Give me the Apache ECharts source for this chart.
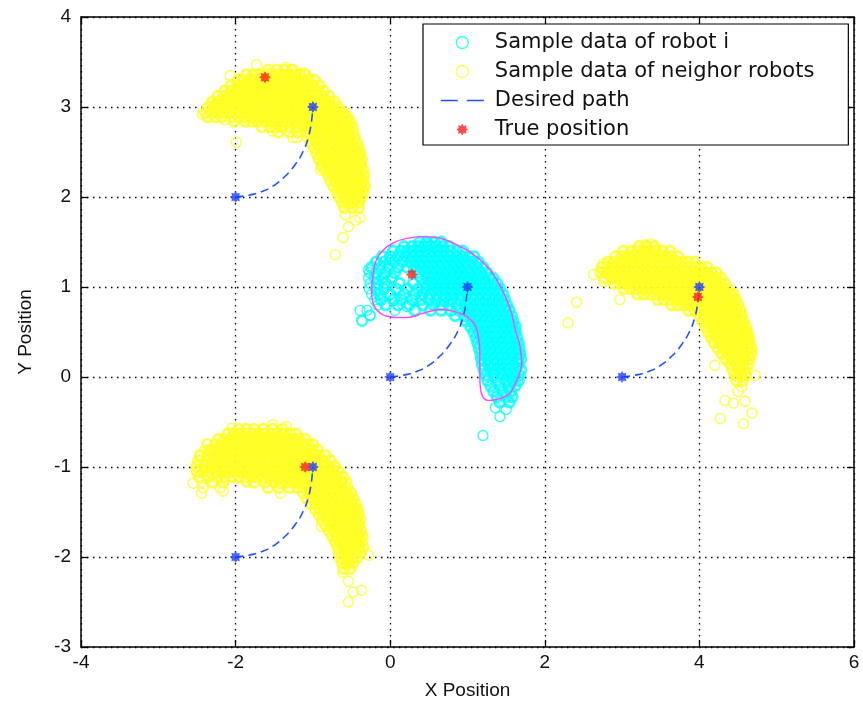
<!DOCTYPE html>
<html>
<head>
<meta charset="utf-8">
<script src="https://cdn.jsdelivr.net/npm/echarts@6/dist/echarts.min.js"></script>
<style>
html,body{margin:0;padding:0;background:#fff;}
#chart{width:863px;height:704px;}
</style>
</head>
<body>
<div id="chart"></div>
<script>
// Axis ranges and tick labels
const xTicks = [-4, -2, 0, 2, 4, 6];
const yTicks = [-3, -2, -1, 0, 1, 2, 3, 4];

// Legend entries
const legendNames = ['Sample data of robot i', 'Sample data of neighor robots', 'Desired path', 'True position'];

// Sample clouds, stored as rows: [y, x1, x2, ...]
const neighborTopLeftRows = [
  [3.41,-1.58,-1.47,-1.36,-1.27],
  [3.36,-1.86,-1.77,-1.70,-1.62,-1.55,-1.47,-1.40,-1.32,-1.24,-1.17,-1.10],
  [3.30,-1.97,-1.90,-1.82,-1.75,-1.67,-1.60,-1.52,-1.44,-1.37,-1.29,-1.22,-1.14,-1.06,-0.98],
  [3.24,-2.06,-1.98,-1.91,-1.83,-1.76,-1.68,-1.61,-1.53,-1.46,-1.38,-1.31,-1.23,-1.16,-1.08,-1.00,-0.92],
  [3.18,-2.14,-2.06,-1.99,-1.92,-1.84,-1.77,-1.69,-1.62,-1.55,-1.47,-1.40,-1.32,-1.25,-1.17,-1.10,-1.02,-0.94,-0.86],
  [3.12,-2.23,-2.15,-2.08,-2.00,-1.93,-1.85,-1.78,-1.70,-1.63,-1.56,-1.48,-1.41,-1.33,-1.26,-1.18,-1.11,-1.03,-0.95,-0.87,-0.79],
  [3.06,-2.30,-2.22,-2.14,-2.07,-1.99,-1.92,-1.84,-1.77,-1.69,-1.62,-1.54,-1.47,-1.39,-1.32,-1.24,-1.17,-1.09,-1.02,-0.94,-0.86,-0.79,-0.72],
  [3.00,-2.35,-2.27,-2.19,-2.12,-2.04,-1.97,-1.89,-1.82,-1.74,-1.67,-1.59,-1.52,-1.44,-1.37,-1.29,-1.22,-1.14,-1.07,-0.99,-0.91,-0.84,-0.76,-0.68],
  [2.94,-2.39,-2.31,-2.24,-2.16,-2.09,-2.01,-1.94,-1.86,-1.79,-1.71,-1.64,-1.56,-1.49,-1.41,-1.34,-1.26,-1.19,-1.11,-1.04,-0.96,-0.88,-0.81,-0.73,-0.66,-0.60],
  [2.89,-2.36,-2.26,-2.18,-2.05,-1.96,-1.88,-1.80,-1.73,-1.65,-1.58,-1.50,-1.43,-1.35,-1.28,-1.20,-1.13,-1.05,-0.98,-0.90,-0.83,-0.75,-0.68,-0.61,-0.56],
  [2.84,-2.02,-1.88,-1.79,-1.71,-1.62,-1.54,-1.47,-1.39,-1.32,-1.24,-1.16,-1.09,-1.01,-0.94,-0.86,-0.79,-0.71,-0.64,-0.57,-0.52],
  [2.78,-1.66,-1.55,-1.48,-1.40,-1.30,-1.22,-1.14,-1.07,-0.99,-0.92,-0.84,-0.77,-0.70,-0.62,-0.55,-0.49],
  [2.72,-1.45,-1.30,-1.20,-1.08,-1.00,-0.93,-0.85,-0.78,-0.70,-0.63,-0.55,-0.48],
  [2.66,-1.06,-0.98,-0.90,-0.83,-0.75,-0.68,-0.60,-0.53,-0.46],
  [2.60,-1.02,-0.94,-0.87,-0.79,-0.72,-0.64,-0.57,-0.50,-0.43],
  [2.54,-0.98,-0.91,-0.83,-0.76,-0.68,-0.61,-0.54,-0.47,-0.41],
  [2.48,-0.95,-0.88,-0.80,-0.73,-0.65,-0.58,-0.51,-0.44,-0.39],
  [2.42,-0.92,-0.84,-0.77,-0.69,-0.62,-0.55,-0.48,-0.41,-0.37],
  [2.36,-0.88,-0.81,-0.73,-0.66,-0.59,-0.52,-0.45,-0.38],
  [2.30,-0.84,-0.77,-0.70,-0.63,-0.56,-0.49,-0.42,-0.35],
  [2.24,-0.80,-0.73,-0.66,-0.59,-0.52,-0.45,-0.39,-0.34],
  [2.18,-0.77,-0.70,-0.63,-0.56,-0.49,-0.42,-0.35],
  [2.12,-0.73,-0.66,-0.59,-0.52,-0.45,-0.38,-0.33],
  [2.06,-0.69,-0.62,-0.55,-0.48,-0.41,-0.35],
  [2.00,-0.66,-0.58,-0.51,-0.44,-0.37],
  [1.94,-0.62,-0.55,-0.48,-0.41],
  [1.88,-0.59,-0.49,-0.41]
];
const neighborTopLeftLoose = [
  [-1.73,3.47],[-2.07,3.35],[-1.99,2.61],[-2.26,3.03],[-2.43,2.92],[-0.89,2.33],
  [-0.90,2.30],[-1.26,2.66],
  [-0.58,1.80],[-0.45,1.74],[-0.39,1.77],[-0.54,1.67],[-0.61,1.55],[-0.71,1.36],
  [-1.36,3.44],[-1.26,3.42],[-1.12,3.38],[-1.52,2.73],[-1.21,2.66],[-2.14,2.86]
];

const neighborRightRows = [
  [1.45,3.22,3.32,3.42],
  [1.40,3.02,3.12,3.20,3.28,3.36,3.44,3.52,3.62],
  [1.34,2.92,3.00,3.08,3.16,3.24,3.32,3.40,3.48,3.56,3.64,3.72],
  [1.28,2.82,2.90,2.98,3.06,3.14,3.22,3.30,3.38,3.46,3.54,3.62,3.70,3.78,3.86,3.94],
  [1.22,2.74,2.82,2.90,2.98,3.06,3.14,3.22,3.30,3.38,3.46,3.54,3.62,3.70,3.78,3.86,3.94,4.02,4.10],
  [1.16,2.72,2.80,2.88,2.96,3.04,3.12,3.20,3.28,3.36,3.44,3.52,3.60,3.68,3.76,3.84,3.92,4.00,4.08,4.16,4.22],
  [1.10,2.78,2.86,2.94,3.02,3.10,3.18,3.26,3.34,3.42,3.50,3.58,3.66,3.74,3.82,3.90,3.98,4.06,4.14,4.21,4.28],
  [1.04,2.90,2.98,3.06,3.14,3.22,3.30,3.38,3.46,3.54,3.62,3.70,3.78,3.86,3.94,4.02,4.10,4.18,4.26,4.33],
  [0.98,3.02,3.10,3.18,3.26,3.34,3.42,3.50,3.58,3.66,3.74,3.82,3.90,3.98,4.06,4.14,4.22,4.30,4.37],
  [0.92,3.20,3.28,3.36,3.44,3.52,3.60,3.68,3.76,3.84,3.92,4.00,4.08,4.16,4.24,4.32,4.40,4.44],
  [0.86,3.46,3.54,3.62,3.70,3.78,3.86,3.94,4.02,4.10,4.18,4.26,4.34,4.41,4.47],
  [0.80,3.64,3.72,3.80,3.88,3.96,4.04,4.12,4.20,4.28,4.36,4.43,4.50],
  [0.74,3.86,3.94,4.02,4.10,4.18,4.26,4.34,4.42,4.48,4.53],
  [0.68,4.00,4.08,4.16,4.24,4.32,4.40,4.47,4.55],
  [0.62,4.04,4.12,4.20,4.28,4.36,4.44,4.51,4.57],
  [0.56,4.08,4.16,4.24,4.32,4.40,4.48,4.55,4.60],
  [0.50,4.11,4.19,4.27,4.35,4.43,4.51,4.58,4.62],
  [0.44,4.15,4.23,4.31,4.39,4.47,4.55,4.61,4.64],
  [0.38,4.19,4.27,4.35,4.43,4.51,4.58,4.65],
  [0.32,4.24,4.32,4.40,4.48,4.56,4.62,4.67],
  [0.26,4.29,4.37,4.45,4.53,4.60,4.67],
  [0.20,4.34,4.42,4.50,4.58,4.65],
  [0.14,4.40,4.48,4.56,4.63],
  [0.08,4.43,4.51,4.58],
  [0.02,4.46,4.54,4.60],
  [-0.04,4.48,4.56]
];
const neighborRightLoose = [
  [2.30,0.60],[2.41,0.83],[2.63,1.14],[2.76,1.26],[2.97,0.86],[2.76,1.06],
  [4.20,0.13],[4.55,-0.11],[4.72,0.02],[4.33,-0.26],[4.44,-0.29],[4.59,-0.27],
  [4.27,-0.46],[4.57,-0.52],[4.68,-0.40],[4.50,-0.16],[3.30,1.47],[3.38,1.48]
];

const neighborBottomRows = [
  [-0.58,-1.96,-1.86,-1.76,-1.64,-1.52,-1.40],
  [-0.63,-2.10,-2.02,-1.94,-1.86,-1.78,-1.70,-1.62,-1.54,-1.46,-1.38,-1.30,-1.22],
  [-0.69,-2.22,-2.14,-2.06,-1.98,-1.90,-1.82,-1.74,-1.66,-1.58,-1.50,-1.42,-1.34,-1.26,-1.18,-1.10],
  [-0.75,-2.26,-2.18,-2.10,-2.02,-1.94,-1.86,-1.78,-1.70,-1.62,-1.54,-1.46,-1.38,-1.30,-1.22,-1.14,-1.06,-1.00],
  [-0.81,-2.32,-2.22,-2.14,-2.06,-1.98,-1.90,-1.82,-1.74,-1.66,-1.58,-1.50,-1.42,-1.34,-1.26,-1.18,-1.10,-1.02,-0.94],
  [-0.87,-2.46,-2.36,-2.28,-2.20,-2.12,-2.04,-1.96,-1.88,-1.80,-1.72,-1.64,-1.56,-1.48,-1.40,-1.32,-1.24,-1.16,-1.08,-1.00,-0.92,-0.84],
  [-0.93,-2.48,-2.38,-2.30,-2.22,-2.14,-2.06,-1.98,-1.90,-1.82,-1.74,-1.66,-1.58,-1.50,-1.42,-1.34,-1.26,-1.18,-1.10,-1.02,-0.94,-0.86,-0.77],
  [-0.99,-2.50,-2.40,-2.32,-2.24,-2.16,-2.08,-2.00,-1.92,-1.84,-1.76,-1.68,-1.60,-1.52,-1.44,-1.36,-1.28,-1.20,-1.12,-1.04,-0.96,-0.88,-0.80,-0.72],
  [-1.05,-2.50,-2.42,-2.34,-2.26,-2.18,-2.10,-2.02,-1.94,-1.86,-1.78,-1.70,-1.62,-1.54,-1.46,-1.38,-1.30,-1.22,-1.14,-1.06,-0.98,-0.90,-0.82,-0.74,-0.67],
  [-1.11,-2.36,-2.24,-2.14,-2.04,-1.96,-1.88,-1.80,-1.72,-1.64,-1.56,-1.48,-1.40,-1.32,-1.24,-1.16,-1.08,-1.00,-0.92,-0.84,-0.76,-0.69,-0.61],
  [-1.17,-2.30,-2.16,-1.76,-1.62,-1.50,-1.42,-1.34,-1.26,-1.18,-1.10,-1.02,-0.94,-0.86,-0.78,-0.70,-0.63,-0.57],
  [-1.23,-1.58,-1.44,-1.30,-1.20,-1.12,-1.04,-0.96,-0.88,-0.80,-0.72,-0.64,-0.56],
  [-1.29,-1.12,-1.04,-0.96,-0.88,-0.80,-0.72,-0.64,-0.57,-0.51],
  [-1.35,-1.08,-1.00,-0.92,-0.84,-0.76,-0.68,-0.61,-0.54,-0.48],
  [-1.41,-1.02,-0.95,-0.87,-0.79,-0.72,-0.64,-0.57,-0.50,-0.45],
  [-1.47,-0.97,-0.90,-0.82,-0.75,-0.67,-0.60,-0.53,-0.46,-0.42],
  [-1.53,-0.92,-0.85,-0.77,-0.70,-0.62,-0.55,-0.48,-0.41],
  [-1.59,-0.88,-0.80,-0.73,-0.65,-0.58,-0.51,-0.44,-0.39],
  [-1.65,-0.83,-0.76,-0.68,-0.61,-0.54,-0.47,-0.40],
  [-1.71,-0.79,-0.72,-0.65,-0.58,-0.51,-0.44,-0.38],
  [-1.77,-0.75,-0.68,-0.61,-0.54,-0.47,-0.41,-0.36],
  [-1.83,-0.71,-0.64,-0.57,-0.50,-0.43,-0.37],
  [-1.89,-0.68,-0.61,-0.54,-0.47,-0.40,-0.35],
  [-1.95,-0.66,-0.59,-0.52,-0.45,-0.38],
  [-2.01,-0.64,-0.57,-0.50,-0.43],
  [-2.07,-0.62,-0.55,-0.48],
  [-2.13,-0.60,-0.52]
];
const neighborBottomLoose = [
  [-2.37,-0.74],[-2.37,-0.81],[-2.05,-0.57],[-2.55,-1.18],[-2.44,-1.29],[-2.16,-1.27],
  [-1.86,-1.15],[-0.89,-1.66],[-0.28,-1.98],[-0.54,-2.27],[-0.48,-2.39],[-0.37,-2.37],
  [-0.54,-2.50],[-1.52,-0.53],[-1.34,-0.55],[-2.46,-1.11],[-0.61,-2.17],
  [-2.48,-1.11],[-2.44,-1.17],[-2.30,-1.17],[-1.86,-1.17],[-2.42,-1.23],[-2.20,-1.23],
  [-1.42,-1.29],[-2.36,-0.75],[-2.40,-0.81]
];

const robotRows = [
  [1.50,0.38,0.47,0.57,0.66],
  [1.45,0.18,0.28,0.36,0.44,0.52,0.60,0.68,0.76],
  [1.40,0.04,0.14,0.22,0.30,0.38,0.46,0.54,0.62,0.70,0.78,0.86,0.94],
  [1.34,-0.10,0.00,0.10,0.20,0.29,0.37,0.45,0.53,0.61,0.69,0.77,0.85,0.93,1.01,1.08],
  [1.28,-0.18,-0.08,0.05,0.16,0.26,0.34,0.42,0.50,0.58,0.66,0.74,0.82,0.90,0.98,1.06,1.14],
  [1.22,-0.24,-0.12,-0.02,0.10,0.22,0.31,0.40,0.48,0.56,0.64,0.72,0.80,0.88,0.96,1.04,1.12,1.20],
  [1.16,-0.18,-0.06,0.06,0.36,0.45,0.53,0.61,0.69,0.77,0.85,0.93,1.01,1.09,1.17,1.25],
  [1.10,-0.20,-0.10,0.02,0.40,0.48,0.56,0.64,0.72,0.80,0.88,0.96,1.04,1.12,1.20,1.28,1.33],
  [1.04,-0.16,-0.06,0.12,0.30,0.44,0.52,0.60,0.68,0.76,0.84,0.92,1.00,1.08,1.16,1.24,1.32,1.38],
  [0.98,-0.18,-0.08,0.08,0.22,0.36,0.46,0.55,0.63,0.71,0.79,0.87,0.95,1.03,1.11,1.19,1.27,1.35,1.42],
  [0.92,-0.14,0.00,0.18,0.32,0.42,0.52,0.60,0.68,0.76,0.84,0.92,1.00,1.08,1.16,1.24,1.32,1.40,1.46],
  [0.86,-0.12,0.04,0.14,0.28,0.40,0.50,0.60,0.70,0.80,0.90,1.00,1.08,1.16,1.24,1.32,1.40,1.48],
  [0.80,-0.06,0.10,0.25,0.42,0.56,0.66,0.76,0.86,0.96,1.04,1.12,1.20,1.28,1.36,1.44,1.51],
  [0.74,0.32,0.52,0.66,0.78,0.90,1.00,1.08,1.16,1.24,1.32,1.40,1.48,1.54],
  [0.68,0.84,0.96,1.04,1.12,1.20,1.28,1.36,1.44,1.51,1.57],
  [0.62,0.98,1.06,1.14,1.22,1.30,1.38,1.46,1.53,1.59],
  [0.56,1.04,1.11,1.19,1.27,1.35,1.43,1.51,1.58,1.62],
  [0.50,1.08,1.15,1.23,1.31,1.39,1.47,1.55,1.62],
  [0.44,1.11,1.18,1.26,1.34,1.42,1.50,1.58,1.64],
  [0.38,1.13,1.20,1.28,1.36,1.44,1.52,1.60,1.66],
  [0.32,1.15,1.22,1.30,1.38,1.46,1.54,1.62,1.67],
  [0.26,1.17,1.24,1.32,1.40,1.48,1.56,1.63,1.68],
  [0.20,1.18,1.26,1.34,1.42,1.50,1.58,1.65,1.69],
  [0.14,1.19,1.27,1.35,1.43,1.51,1.59,1.66],
  [0.08,1.21,1.30,1.38,1.46,1.54,1.62,1.69],
  [0.02,1.24,1.34,1.44,1.52,1.60,1.67],
  [-0.04,1.26,1.38,1.50,1.58,1.66],
  [-0.10,1.30,1.42,1.53,1.62],
  [-0.16,1.34,1.46,1.56],
  [-0.22,1.38,1.50,1.58],
  [-0.28,1.42,1.54]
];
const robotLoose = [
  [1.20,-0.65],[1.42,-0.44],[1.50,-0.36],[1.36,-0.34],[-0.39,0.74],[-0.37,0.63],
  [-0.26,0.69],[-0.28,1.19],[0.49,1.48],[0.00,1.30],
  [-0.27,1.16],[-0.28,1.10],[-0.26,1.04],[-0.27,0.98],[-0.24,0.92],[-0.20,0.86],
  [-0.16,0.80],[-0.30,0.74],[0.06,0.74],[-0.36,0.62],[-0.26,0.68],[0.22,0.78]
];

// Confidence contour around the robot i samples
const robotContour = [
  [-0.24,0.97],[-0.22,0.82],[-0.13,0.71],[0.00,0.67],[0.21,0.66],[0.43,0.71],[0.65,0.75],
  [0.77,0.74],[0.95,0.69],[1.08,0.60],[1.14,0.45],[1.16,0.26],[1.16,0.00],[1.18,-0.18],
  [1.27,-0.26],[1.42,-0.24],[1.55,-0.18],[1.64,-0.03],[1.70,0.15],[1.68,0.34],[1.62,0.52],
  [1.57,0.71],[1.49,0.89],[1.38,1.08],[1.25,1.23],[1.08,1.36],[0.86,1.47],[0.65,1.54],
  [0.43,1.56],[0.21,1.54],[0.04,1.49],[-0.09,1.41],[-0.18,1.30],[-0.22,1.15],[-0.24,0.97]
];

// Desired paths (quarter arcs from start to goal)
const pathTopLeft = [[-2,2],[-1.83,2.02],[-1.66,2.06],[-1.5,2.13],[-1.36,2.23],[-1.23,2.36],[-1.13,2.5],[-1.06,2.66],[-1.02,2.83],[-1,3]];
const pathRobot = [[0,0],[0.17,0.02],[0.34,0.06],[0.5,0.13],[0.64,0.23],[0.77,0.36],[0.87,0.5],[0.94,0.66],[0.98,0.83],[1,1]];
const pathRight = [[3,0],[3.17,0.02],[3.34,0.06],[3.5,0.13],[3.64,0.23],[3.77,0.36],[3.87,0.5],[3.94,0.66],[3.98,0.83],[4,1]];
const pathBottom = [[-2,-2],[-1.83,-1.98],[-1.66,-1.94],[-1.5,-1.87],[-1.36,-1.77],[-1.23,-1.64],[-1.13,-1.5],[-1.06,-1.34],[-1.02,-1.17],[-1,-1]];

// Path start / goal points
const pathEnds = [[-2,2],[-1,3],[0,0],[1,1],[3,0],[4,1],[-2,-2],[-1,-1]];

// True positions
const truePositions = [[-1.62,3.33],[0.28,1.14],[3.98,0.89],[-1.10,-1.00]];

function rowsToPoints(rows) {
  const pts = [];
  rows.forEach(function (r) {
    for (let i = 1; i < r.length; i++) pts.push([r[i], r[0]]);
  });
  return pts;
}

const neighborCore = rowsToPoints(neighborTopLeftRows).concat(
  rowsToPoints(neighborRightRows), rowsToPoints(neighborBottomRows));
const neighborLoose = neighborTopLeftLoose.concat(neighborRightLoose, neighborBottomLoose);
const robotCore = rowsToPoints(robotRows);

const starSymbol = 'path://M20 10 L16 12.49 L17.07 17.07 L12.49 16 L10 20 L7.51 16 L2.93 17.07 L4 12.49 L0 10 L4 7.51 L2.93 2.93 L7.51 4 L10 0 L12.49 4 L17.07 2.93 L16 7.51 Z';

const fontFam = '"Liberation Sans", Arial, Helvetica, sans-serif';
const pathColor = '#2050ff';
const yellow = '#ffff22';
const cyan = '#00ffff';
const axisCommon = {
  axisLine: { show: true, onZero: false, lineStyle: { color: '#000', width: 1.5 } },
  axisTick: { show: true, inside: true, length: 7, lineStyle: { color: '#000', width: 1.3 } }
};

function ringSeries(name, data, color, width) {
  return {
    name: name, type: 'scatter', data: data,
    symbol: 'circle', symbolSize: 10, silent: true, z: 2, large: false,
    itemStyle: { color: 'rgba(255,255,255,0)', borderColor: color, borderWidth: width }
  };
}

function pathSeries(data) {
  return {
    name: 'Desired path', type: 'line', data: data, symbol: 'none', smooth: true,
    itemStyle: { color: pathColor },
    lineStyle: { color: pathColor, width: 1.6, type: [8, 5] }, z: 4, silent: true
  };
}

const chart = echarts.init(document.getElementById('chart'), null, { renderer: 'canvas' });
chart.setOption({
  animation: false,
  backgroundColor: '#fff',
  grid: { left: 81, right: 9, top: 17, bottom: 57, outerBoundsMode: 'none', containLabel: false },
  legend: {
    data: [
      { name: legendNames[0], itemStyle: { borderWidth: 1.4, borderColor: cyan, color: 'rgba(255,255,255,0)' } },
      { name: legendNames[1], itemStyle: { borderWidth: 1.4, borderColor: yellow, color: 'rgba(255,255,255,0)' } },
      { name: legendNames[2], itemStyle: { opacity: 0 }, lineStyle: { type: [17, 9], width: 1.6, color: pathColor } },
      legendNames[3]
    ],
    orient: 'vertical',
    left: 423, top: 24,
    padding: [8, 34, 5, 17],
    itemGap: 8, itemWidth: 43, itemHeight: 12,
    backgroundColor: '#fff', borderColor: '#000', borderWidth: 1.2, borderRadius: 0,
    selectedMode: false,
    textStyle: { fontSize: 21, lineHeight: 21, color: '#111', fontFamily: '"DejaVu Sans", sans-serif', padding: [0, 0, 0, 6] }
  },
  xAxis: [
    Object.assign({
      type: 'value', min: xTicks[0], max: xTicks[xTicks.length - 1], interval: 2, position: 'bottom',
      axisLabel: { fontSize: 19, color: '#111', margin: 6, fontFamily: fontFam },
      splitLine: { show: true, lineStyle: { color: '#000', width: 1.3, type: [1.5, 4.5] } },
      name: 'X Position', nameLocation: 'middle', nameGap: 34,
      nameTextStyle: { fontSize: 19, color: '#111', fontFamily: fontFam }
    }, axisCommon),
    Object.assign({
      type: 'value', min: xTicks[0], max: xTicks[xTicks.length - 1], interval: 2, position: 'top',
      axisLabel: { show: false }, splitLine: { show: false }
    }, axisCommon)
  ],
  yAxis: [
    Object.assign({
      type: 'value', min: yTicks[0], max: yTicks[yTicks.length - 1], interval: 1, position: 'left',
      axisLabel: { fontSize: 19, color: '#111', margin: 10, fontFamily: fontFam },
      splitLine: { show: true, lineStyle: { color: '#000', width: 1.3, type: [1.5, 4.5] } },
      name: 'Y Position', nameLocation: 'middle', nameGap: 46,
      nameTextStyle: { fontSize: 19, color: '#111', fontFamily: fontFam }
    }, axisCommon),
    Object.assign({
      type: 'value', min: yTicks[0], max: yTicks[yTicks.length - 1], interval: 1, position: 'right',
      axisLabel: { show: false }, splitLine: { show: false }
    }, axisCommon)
  ],
  series: [
    ringSeries('Sample data of neighor robots', neighborCore, yellow, 2.8),
    ringSeries('Sample data of neighor robots', neighborLoose, yellow, 1.4),
    ringSeries('Sample data of robot i', robotCore, cyan, 2.8),
    ringSeries('Sample data of robot i', robotLoose, cyan, 1.4),
    {
      name: 'contour', type: 'line', data: robotContour, symbol: 'none', smooth: 0.4, silent: true, z: 3,
      lineStyle: { color: '#ff44ff', width: 1.4 }
    },
    pathSeries(pathTopLeft),
    pathSeries(pathRobot),
    pathSeries(pathRight),
    pathSeries(pathBottom),
    {
      name: 'path ends', type: 'scatter', data: pathEnds, symbol: starSymbol, symbolSize: 12, z: 5, silent: true,
      itemStyle: { color: '#1e3cff' }
    },
    {
      name: 'True position', type: 'scatter', data: truePositions, symbol: starSymbol, symbolSize: 12, z: 6, silent: true,
      itemStyle: { color: '#ff2020' }
    }
  ]
});
</script>
</body>
</html>
